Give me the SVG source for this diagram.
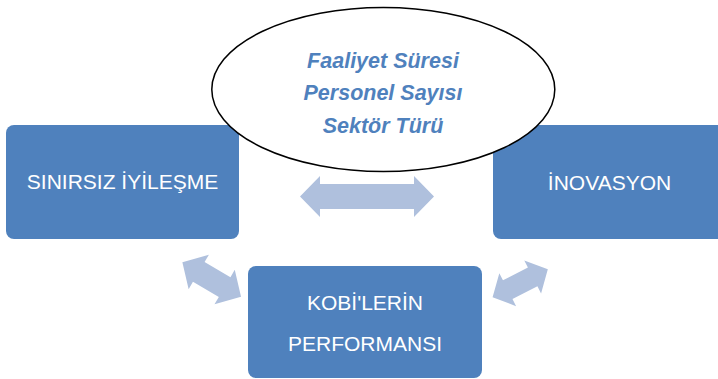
<svg xmlns="http://www.w3.org/2000/svg" width="718" height="379" viewBox="0 0 718 379">
<style>
.box{fill:#4F81BD;}
.btxt{font-family:"Liberation Sans",Arial,sans-serif;font-size:21px;fill:#FFFFFF;text-anchor:middle;}
.arr{fill:#AFC0DD;}
.etxt{font-family:"Liberation Sans",Arial,sans-serif;font-size:21.5px;font-weight:bold;font-style:italic;fill:#4F81BD;text-anchor:middle;}
</style>
<rect width="718" height="379" fill="#FFFFFF"/>
<g id="connectors">
<path class="arr" transform="translate(367,196.5)" d="M-67,0 L-47,-20.5 L-47,-12.5 L47,-12.5 L47,-20.5 L67,0 L47,20.5 L47,12.5 L-47,12.5 L-47,20.5 Z"/>
<path class="arr" transform="translate(211.7,279.5) rotate(30.4)" d="M-34,0 L-15,-20 L-15,-11.5 L15,-11.5 L15,-20 L34,0 L15,20 L15,11.5 L-15,11.5 L-15,20 Z"/>
<path class="arr" transform="translate(520.2,283.3) rotate(-27)" d="M-31,0 L-14,-18.5 L-14,-10.5 L14,-10.5 L14,-18.5 L31,0 L14,18.5 L14,10.5 L-14,10.5 L-14,18.5 Z"/>
</g>
<g id="node-sinirsiz">
<rect class="box" x="6" y="125" width="233" height="114" rx="8"/>
<text class="btxt" x="122.5" y="189">SINIRSIZ İYİLEŞME</text>
</g>
<g id="node-inovasyon">
<rect class="box" x="493" y="125" width="233" height="114" rx="8"/>
<text class="btxt" x="609.5" y="190">İNOVASYON</text>
</g>
<g id="node-kobi">
<rect class="box" x="248" y="266" width="234" height="112" rx="8"/>
<text class="btxt" x="365" y="310">KOBİ'LERİN</text>
<text class="btxt" x="365" y="351">PERFORMANSI</text>
</g>
<g id="node-factors">
<ellipse cx="383.3" cy="89.5" rx="171.5" ry="82" fill="#FFFFFF" stroke="#000000" stroke-width="1.5"/>
<text class="etxt" x="383" y="67.5">Faaliyet Süresi</text>
<text class="etxt" x="383" y="100">Personel Sayısı</text>
<text class="etxt" x="383" y="132.5">Sektör Türü</text>
</g>
</svg>
